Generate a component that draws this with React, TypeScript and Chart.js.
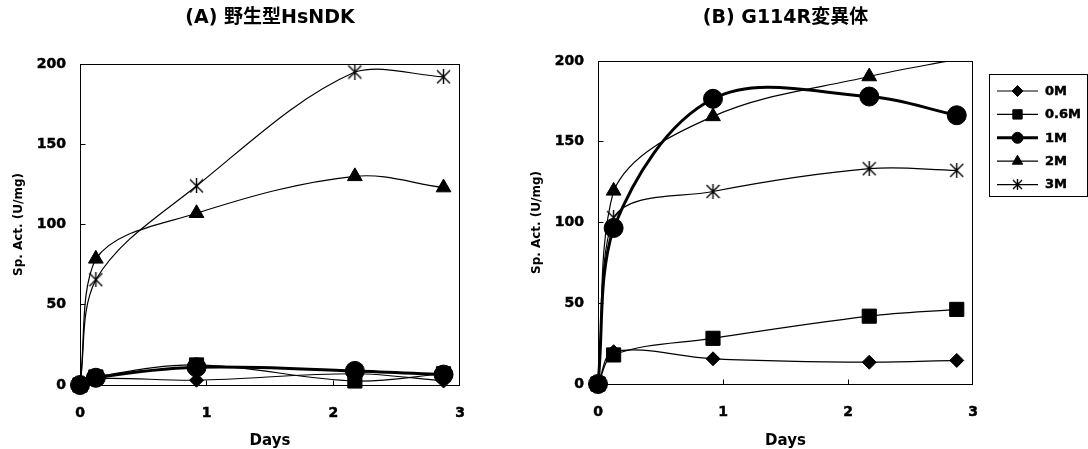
import React, { useEffect, useRef } from 'react';
import { Chart, registerables } from 'chart.js';
import { drawPoint } from 'chart.js/helpers';

Chart.register(...registerables);

// ---- data ----
const DAYS = [0, 0.125, 0.92, 2.17, 2.87];
const SERIES_NAMES = ['0M', '0.6M', '1M', '2M', '3M'];
const X_TICKS = [0, 1, 2, 3];
const Y_TICKS = [0, 50, 100, 150, 200];
const X_INNER_TICKS = [1, 2];
const Y_INNER_TICKS = [50, 100, 150];

const TITLE_A = '(A) 野生型HsNDK';
const TITLE_B = '(B) G114R変異体';
const X_TITLE = 'Days';
const Y_TITLE = 'Sp. Act. (U/mg)';

const WT_0M = [0, 4, 3, 7, 2.5];
const WT_06M = [0, 5, 12.5, 2.5, 7];
const WT_1M = [0, 4.5, 11, 8.8, 6.5];
const WT_2M = [0, 78.6, 107, 130, 123];
const WT_3M = [0, 65.6, 124, 195, 192];

const MUT_0M = [0, 20, 15.6, 13.5, 14.6];
const MUT_06M = [0, 18, 28.3, 42, 46.2];
const MUT_1M = [0, 96.6, 176.6, 178, 166.4];
const MUT_2M = [0, 119.6, 165.7, 190.4, 201];
const MUT_3M = [0, 103, 119.2, 133.3, 132.3];

const Y_MAX = 200;
const FONT = '"DejaVu Sans", "Noto Sans CJK JP", sans-serif';

function makeStar(size: number) {
  const c = document.createElement('canvas');
  c.width = size;
  c.height = size;
  const g = c.getContext('2d') as CanvasRenderingContext2D;
  g.strokeStyle = '#000';
  g.lineWidth = 1.4;
  const m = size / 2;
  g.beginPath();
  g.moveTo(1, 1);
  g.lineTo(size - 1, size - 1);
  g.moveTo(size - 1, 1);
  g.lineTo(1, size - 1);
  g.moveTo(m, 0);
  g.lineTo(m, size);
  g.stroke();
  return c;
}

const STAR_BIG = makeStar(15);
const STAR_SMALL = makeStar(11);

const POINT_STYLES: any[] = ['rectRot', 'rect', 'circle', 'triangle', STAR_BIG];
const LEGEND_STYLES: any[] = ['rectRot', 'rect', 'circle', 'triangle', STAR_SMALL];
const POINT_RADII = [7, 10, 9.5, 8.5, 7];
const LEGEND_RADII = [5.5, 6.6, 5.5, 6, 5];
const LINE_WIDTHS = [1.2, 1.2, 3, 1.2, 1.2];

function buildDatasets(series: number[][]) {
  return series.map((vals, i) => ({
    label: SERIES_NAMES[i],
    data: DAYS.map((d, j) => ({ x: d, y: vals[j] })),
    borderColor: '#000',
    backgroundColor: '#000',
    borderWidth: LINE_WIDTHS[i],
    pointStyle: POINT_STYLES[i],
    pointRadius: (ctx: any) => (ctx.raw && ctx.raw.y > Y_MAX ? 0 : POINT_RADII[i]),
    pointBorderWidth: 1,
    pointBorderColor: '#000',
    pointBackgroundColor: '#000',
    tension: 0.35,
    clip: { left: 20, top: 0, right: 20, bottom: 20 },
  }));
}

const framePlugin = {
  id: 'frame',
  beforeDatasetsDraw(chart: any) {
    const { ctx, chartArea: a, scales } = chart;
    ctx.save();
    ctx.strokeStyle = '#000';
    ctx.lineWidth = 1;
    const l = Math.floor(a.left) + 0.5;
    const t = Math.floor(a.top) + 0.5;
    const r = Math.floor(a.right) - 0.5;
    const b = Math.floor(a.bottom) + 0.5;
    ctx.strokeRect(l, t, r - l, b - t);
    ctx.beginPath();
    X_INNER_TICKS.forEach((v) => {
      const px = Math.floor(scales.x.getPixelForValue(v)) + 0.5;
      ctx.moveTo(px, b);
      ctx.lineTo(px, b - 5);
    });
    Y_INNER_TICKS.forEach((v) => {
      const py = Math.floor(scales.y.getPixelForValue(v)) + 0.5;
      ctx.moveTo(l, py);
      ctx.lineTo(l + 5, py);
    });
    ctx.stroke();
    ctx.restore();
  },
};

const legendPlugin = {
  id: 'boxLegend',
  afterDraw(chart: any) {
    const opts = chart.options.plugins.boxLegend;
    if (!opts || !opts.show) return;
    const ctx = chart.ctx;
    ctx.save();
    ctx.strokeStyle = '#000';
    ctx.fillStyle = '#000';
    ctx.lineWidth = 1;
    ctx.strokeRect(opts.x + 0.5, opts.y + 0.5, opts.w, opts.h);
    chart.data.datasets.forEach((ds: any, i: number) => {
      const y = opts.firstRow + i * opts.rowGap;
      ctx.beginPath();
      ctx.lineWidth = LINE_WIDTHS[i];
      ctx.moveTo(opts.lineX0, y);
      ctx.lineTo(opts.lineX1, y);
      ctx.stroke();
      ctx.lineWidth = 1;
      drawPoint(ctx, { pointStyle: LEGEND_STYLES[i], radius: LEGEND_RADII[i], rotation: 0, borderWidth: 1 } as any, (opts.lineX0 + opts.lineX1) / 2, y);
      ctx.font = 'bold 13px ' + FONT;
      ctx.textBaseline = 'middle';
      ctx.textAlign = 'left';
      ctx.lineWidth = 0.5;
      ctx.fillText(ds.label, opts.textX, y + 0.5);
      ctx.strokeText(ds.label, opts.textX, y + 0.5);
    });
    ctx.restore();
  },
};

function makeConfig(title: string, series: number[][], geo: any): any {
  return {
    type: 'line',
    data: { datasets: buildDatasets(series) },
    plugins: [framePlugin, legendPlugin],
    options: {
      animation: false,
      responsive: false,
      maintainAspectRatio: false,
      layout: { padding: { left: 0, right: geo.padRight, top: 0, bottom: 0 } },
      plugins: {
        legend: { display: false },
        tooltip: { enabled: false },
        title: {
          display: true,
          text: title,
          fullSize: false,
          color: '#000',
          font: { family: FONT, size: 19, weight: 'bold' },
          padding: { top: 6.6, bottom: geo.titleBottom },
        },
        boxLegend: geo.legend,
      },
      scales: {
        x: {
          type: 'linear',
          min: 0,
          max: 3,
          afterBuildTicks: (s: any) => {
            s.ticks = X_TICKS.map((v) => ({ value: v }));
          },
          afterFit: (s: any) => {
            s.height = geo.xHeight;
          },
          grid: { display: false, drawTicks: false },
          border: { display: false },
          ticks: {
            color: '#000',
            padding: 20,
            maxRotation: 0,
            textStrokeColor: '#000',
            textStrokeWidth: 0.5,
            font: { family: FONT, size: 14, weight: 'bold' },
            callback: (v: any) => String(v),
          },
          title: {
            display: true,
            text: X_TITLE,
            color: '#000',
            font: { family: FONT, size: 15, weight: 'bold', lineHeight: 1 },
            padding: { top: 0, bottom: 0 },
          },
        },
        y: {
          type: 'linear',
          min: 0,
          max: Y_MAX,
          afterBuildTicks: (s: any) => {
            s.ticks = Y_TICKS.map((v) => ({ value: v }));
          },
          afterFit: (s: any) => {
            s.width = geo.yWidth;
          },
          grid: { display: false, drawTicks: false },
          border: { display: false },
          ticks: {
            color: '#000',
            padding: 14,
            textStrokeColor: '#000',
            textStrokeWidth: 0.5,
            font: { family: FONT, size: 14, weight: 'bold' },
            callback: (v: any) => String(v),
          },
          title: {
            display: true,
            text: Y_TITLE,
            color: '#000',
            font: { family: FONT, size: 12, weight: 'bold' },
            padding: { top: geo.yTitlePad, bottom: 0 },
          },
        },
      },
    },
  };
}

function ChartCanvas({ width, height, config, left }: any) {
  const ref = useRef<HTMLCanvasElement>(null);
  useEffect(() => {
    if (!ref.current) return;
    const chart = new Chart(ref.current, config);
    return () => chart.destroy();
  }, []);
  return (
    <canvas
      ref={ref}
      width={width}
      height={height}
      style={{ position: 'absolute', left, top: 0, width, height }}
    />
  );
}

export default function App() {
  const leftGeo = {
    padRight: 60,
    titleBottom: 34.6,
    xHeight: 64,
    yWidth: 80,
    yTitlePad: 11.8,
    legend: { show: false },
  };
  const rightGeo = {
    padRight: 115,
    titleBottom: 31.6,
    xHeight: 65,
    yWidth: 78,
    yTitlePad: 9.8,
    legend: {
      show: true,
      x: 469,
      y: 74,
      w: 98,
      h: 122,
      firstRow: 91,
      rowGap: 23.4,
      lineX0: 477,
      lineX1: 518,
      textX: 525,
    },
  };
  const leftConfig = makeConfig(TITLE_A, [WT_0M, WT_06M, WT_1M, WT_2M, WT_3M], leftGeo);
  const rightConfig = makeConfig(TITLE_B, [MUT_0M, MUT_06M, MUT_1M, MUT_2M, MUT_3M], rightGeo);
  return (
    <div style={{ position: 'absolute', left: 0, top: 0, width: 1088, height: 449, background: '#fff', overflow: 'hidden' }}>
      <ChartCanvas width={520} height={449} left={0} config={leftConfig} />
      <ChartCanvas width={568} height={449} left={520} config={rightConfig} />
    </div>
  );
}
